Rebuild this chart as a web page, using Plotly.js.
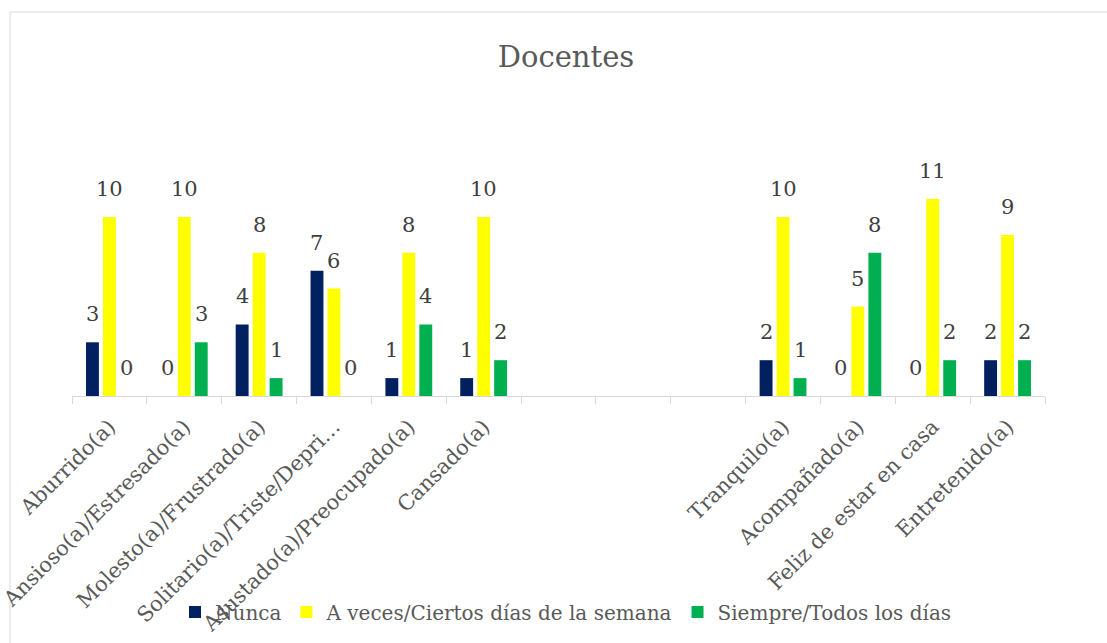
<!DOCTYPE html>
<html>
<head>
<meta charset="utf-8">
<script src="https://cdn.plot.ly/plotly-3.0.1.min.js"></script>
<style>html,body{margin:0;padding:0;background:#fff;}#chart{width:1107px;height:643px;}</style>
</head>
<body>
<div id="chart"></div>
<script>
const categories = ["Aburrido(a)", "Ansioso(a)/Estresado(a)", "Molesto(a)/Frustrado(a)", "Solitario(a)/Triste/Depri…", "Asustado(a)/Preocupado(a)", "Cansado(a)", " ", "  ", "   ", "Tranquilo(a)", "Acompañado(a)", "Feliz de estar en casa", "Entretenido(a)"];
const seriesNames = ["Nunca", "A veces/Ciertos días de la semana", "Siempre/Todos los días"];
const nunca = [3, 0, 4, 7, 1, 1, null, null, null, 2, 0, 0, 2];
const aveces = [10, 10, 8, 6, 8, 10, null, null, null, 10, 5, 11, 9];
const siempre = [0, 3, 1, 0, 4, 2, null, null, null, 1, 8, 2, 2];
const colors = ["#002060", "#FFFF00", "#00B050"];
const values = [nunca, aveces, siempre];

const FONT = "DejaVu Serif, Liberation Serif, serif";
const L = 72, R = 1045, T = 181, B = 396;
const pw = R - L, ph = B - T;
const BARGAP = 0.32;

const traces = values.map((v, i) => ({
  type: "bar",
  name: seriesNames[i],
  x: categories,
  y: v,
  marker: {color: colors[i]},
  hoverinfo: "x+y+name"
}));

// data labels placed above each bar
const catW = pw / categories.length;
const slot = catW * (1 - BARGAP) / values.length;
const annotations = [];
values.forEach((v, i) => {
  v.forEach((d, j) => {
    if (d === null) return;
    annotations.push({
      x: categories[j], y: d, xref: "x", yref: "y",
      text: String(d), showarrow: false,
      xshift: (i - (values.length - 1) / 2) * slot,
      yshift: 14, yanchor: "bottom", xanchor: "center",
      font: {family: FONT, size: 21, color: "#404040"}
    });
  });
});

const layout = {
  width: 1107, height: 643,
  margin: {l: L, r: 1107 - R, t: T, b: 643 - B, pad: 0},
  paper_bgcolor: "#ffffff",
  plot_bgcolor: "#ffffff",
  font: {family: FONT, color: "#595959", size: 18},
  title: {text: "Docentes", font: {family: FONT, size: 29, color: "#595959"}, x: (566 - L) / pw, xref: "paper", xanchor: "center", y: 1 - 57 / 643, yanchor: "middle"},
  barmode: "group",
  bargap: BARGAP,
  bargroupgap: 0.24,
  showlegend: true,
  legend: {orientation: "h", x: (566 - L) / pw, xanchor: "center", y: (B - 612) / ph, yanchor: "middle", font: {family: FONT, size: 20, color: "#595959"}, itemwidth: 30, bgcolor: "rgba(0,0,0,0)"},
  xaxis: {
    type: "category",
    categoryorder: "array", categoryarray: categories,
    tickangle: -45,
    tickfont: {family: FONT, size: 21, color: "#595959"},
    ticklabelstandoff: 9,
    showline: true, linecolor: "#d9d9d9", linewidth: 1,
    ticks: "outside", tickson: "boundaries", ticklen: 7, tickcolor: "#d9d9d9",
    showgrid: false, zeroline: false, automargin: false
  },
  yaxis: {
    range: [0, (B - T) / 17.9],
    visible: false, showgrid: false, zeroline: false, fixedrange: true
  },
  annotations: annotations,
  shapes: [{
    type: "rect", xref: "paper", yref: "paper",
    x0: (10 - L) / pw, x1: (1110 - L) / pw,
    y0: (B - 648) / ph, y1: (B - 12) / ph,
    line: {color: "#d9d9d9", width: 1}, fillcolor: "rgba(0,0,0,0)", layer: "below"
  }]
};

Plotly.newPlot("chart", traces, layout, {displayModeBar: false, staticPlot: true});
</script>
</body>
</html>
